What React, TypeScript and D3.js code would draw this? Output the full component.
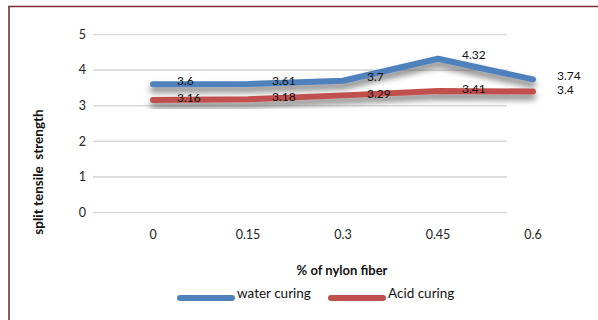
import React from "react";
import * as d3 from "d3";

const categories = ["0", "0.15", "0.3", "0.45", "0.6"];
const waterCuring = [3.6, 3.61, 3.7, 4.32, 3.74];
const acidCuring = [3.16, 3.18, 3.29, 3.41, 3.4];
const yTicks = [0, 1, 2, 3, 4, 5];
const seriesNames = ["water curing", "Acid curing"];

const W = 598;
const H = 320;
const FONT = "Lato, 'Open Sans', sans-serif";

export default function App() {
  const x = d3.scalePoint<string>().domain(categories).range([153, 533]);
  const y = d3.scaleLinear().domain([0, 5]).range([212.5, 34.5]);
  const line = d3
    .line<number>()
    .x((_, i) => x(categories[i]) as number)
    .y((d) => y(d));

  const series = [
    { name: seriesNames[0], values: waterCuring, color: "#4f81bd" },
    { name: seriesNames[1], values: acidCuring, color: "#c0504d" },
  ];

  return (
    <svg
      width={W}
      height={H}
      style={{ position: "absolute", left: 0, top: 0, background: "#fff" }}
      fontFamily={FONT}
    >
      <defs>
        <filter id="shadow" x="-10%" y="-50%" width="120%" height="250%">
          <feGaussianBlur in="SourceAlpha" stdDeviation="3" result="b" />
          <feOffset in="b" dx="0" dy="5" result="o" />
          <feFlood floodColor="#555" floodOpacity="0.8" />
          <feComposite in2="o" operator="in" result="s" />
          <feMerge>
            <feMergeNode in="s" />
            <feMergeNode in="SourceGraphic" />
          </feMerge>
        </filter>
      </defs>
      {/* frame */}
      <line x1={9} x2={9} y1={6.5} y2={H} stroke="#7a2e2e" strokeWidth={1.6} />
      <line x1={8.2} x2={W} y1={6.5} y2={6.5} stroke="#7a2e2e" strokeWidth={1.4} />

      {/* gridlines */}
      {yTicks.map((t) => (
        <g key={t}>
          <line x1={93} x2={507} y1={y(t)} y2={y(t)} stroke="#d9d9d9" strokeWidth={1.6} />
          <text x={86} y={y(t)} dy="0.35em" textAnchor="end" fontSize={12.5} fill="#222">
            {t}
          </text>
        </g>
      ))}

      {/* x tick labels */}
      {categories.map((c) => (
        <text key={c} x={x(c)} y={235} dy="0.35em" textAnchor="middle" fontSize={12.5} fill="#222">
          {c}
        </text>
      ))}

      {/* lines */}
      {series.map((s) => (
        <path
          key={s.name}
          d={line(s.values) || ""}
          fill="none"
          stroke={s.color}
          strokeWidth={6}
          strokeLinecap="round"
          strokeLinejoin="round"
          filter="url(#shadow)"
        />
      ))}

      {/* data labels */}
      {series.map((s, si) =>
        s.values.map((v, i) => (
          <text
            key={s.name + i}
            x={(x(categories[i]) as number) + 24}
            y={y(v) - (si === 0 ? 3.5 : 2)}
            dy="0.35em"
            fontSize={12}
            fill="#111"
          >
            {v}
          </text>
        ))
      )}

      {/* axis titles */}
      <text
        transform={`translate(38,172) rotate(-90)`}
        textAnchor="middle"
        dy="0.35em"
        fontSize={13.5}
        fontWeight="bold"
        fill="#111"
        style={{ whiteSpace: "pre" }}
      >
        {"split tensile  strength"}
      </text>
      <text x={342} y={270} dy="0.35em" textAnchor="middle" fontSize={13} fontWeight="bold" fill="#111">
        % of nylon fiber
      </text>

      {/* legend */}
      {series.map((s, i) => {
        const lx = i === 0 ? 180 : 331;
        return (
          <g key={s.name}>
            <line
              x1={lx}
              x2={lx + 52}
              y1={298}
              y2={298}
              stroke={s.color}
              strokeWidth={6}
              strokeLinecap="round"
            />
            <text x={lx + 57} y={293} dy="0.35em" fontSize={13.5} fill="#111">
              {s.name}
            </text>
          </g>
        );
      })}
    </svg>
  );
}
